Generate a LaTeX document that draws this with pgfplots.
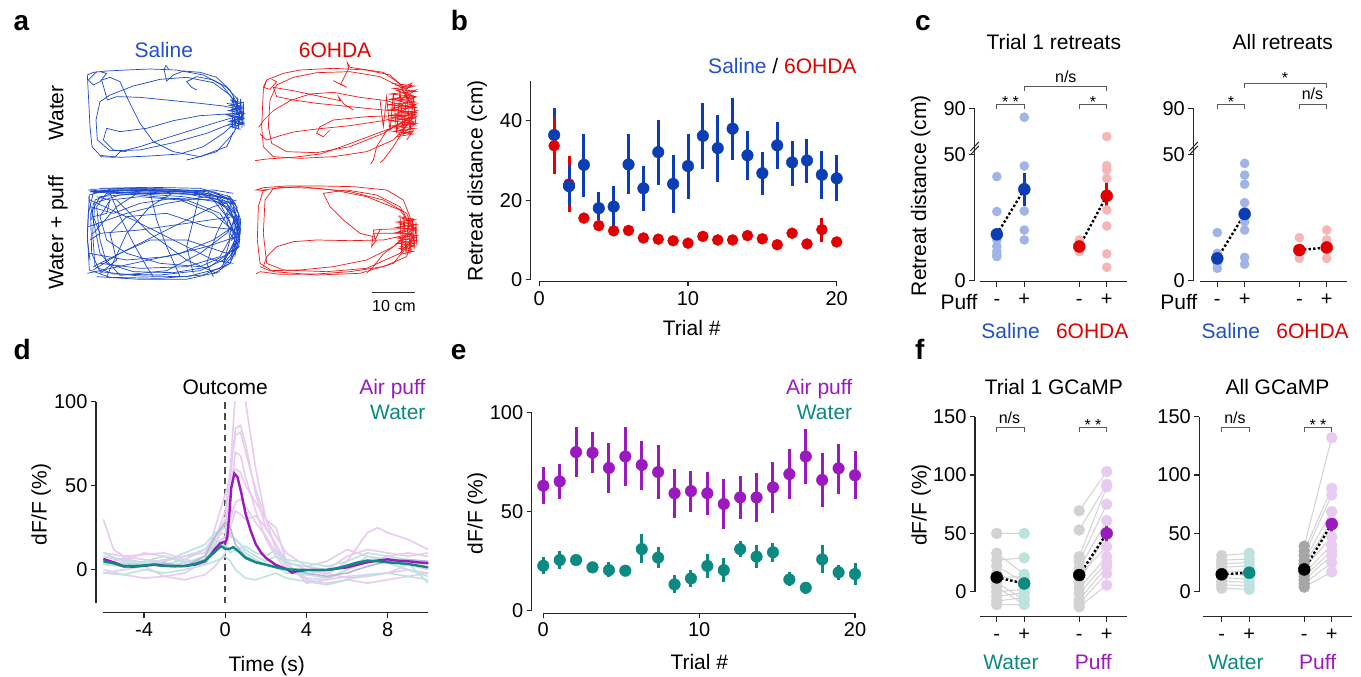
\documentclass[border=0pt]{standalone}
\usepackage{fontspec}
\setmainfont{Liberation Sans}
\usepackage{pgfplots}
\pgfplotsset{compat=1.18}

\definecolor{sal}{HTML}{0B3DB5}
\definecolor{saltxt}{HTML}{2050CC}
\definecolor{sallt}{HTML}{A0B4E6}
\definecolor{ohda}{HTML}{E00000}
\definecolor{ohdalt}{HTML}{F6B6B6}
\definecolor{puf}{HTML}{9A1ABF}
\definecolor{puflt}{HTML}{E9CBF1}
\definecolor{wat}{HTML}{0A8A80}
\definecolor{watlt}{HTML}{BDE2DF}
\definecolor{grbl}{HTML}{B4BCD4}
\definecolor{trb}{HTML}{1C48CC}
\definecolor{trr}{HTML}{F01818}
\definecolor{gry}{HTML}{D2D2D2}
\definecolor{dgry}{HTML}{A6A6A6}

\newcommand{\fsz}[1]{\fontsize{#1}{#1}\selectfont}
\newcommand{\brk}[4]{\draw[br] (#1,{677-#4}) -- (#1,{677-#3}) -- (#2,{677-#3}) -- (#2,{677-#4});}

\tikzset{
  axl/.style={line width=1.1pt, black!85},
  br/.style={line width=0.9pt, black!65},
  lab/.style={font=\fsz{21}, anchor=base},
  sig/.style={font=\fsz{16}, anchor=base},
  pl/.style={font=\bfseries\fsz{28}, anchor=base west},
}

\pgfplotsset{
  panel/.style={scale only axis, clip=false, enlargelimits=false,
    anchor=south west, axis lines=left, axis line style={draw=none,-},
    tick align=outside, major tick length=5pt,
    every tick/.style={black!85, line width=1.1pt},
    tick label style={font=\fsz{20}},
    xticklabel style={text height=15pt, text depth=0pt},
    /pgf/number format/assume math mode=true},
  strip/.style={panel, xtick={0,1,3,4}, xticklabels={-,+,-,+}},
  brkax/.style={y coord trafo/.code={\pgfmathparse{##1>50 ? 50+0.454*(##1-50) : ##1}},
    y coord inv trafo/.code={\pgfmathparse{##1>50 ? 50+(##1-50)/0.454 : ##1}},
    ymin=-0.3, ymax=90, ytick={0,50,90}, yticklabels={0,50,90}},
  ebar/.style={only marks, mark=*, mark size=5.8pt, color=#1,
    error bars/y dir=both, error bars/y explicit, error bars/error mark=none,
    error bars/error bar style={line width=3pt, color=#1}},
  dots/.style={only marks, mark=*, mark size=4.6pt, color=#1},
  mean/.style={only marks, mark=*, mark size=6pt, color=#1,
    error bars/y dir=both, error bars/y explicit, error bars/error mark=none,
    error bars/error bar style={line width=2.6pt, color=#1}},
  dline/.style={black, line width=2.4pt, dash pattern=on 2.4pt off 2.2pt},
  tra/.style={color=#1, line width=0.7pt},
  lt/.style={color=#1, line width=1.6pt},
}

\begin{document}
\begin{tikzpicture}[x=1pt,y=1pt]
\path[use as bounding box] (0,0) rectangle (1361,677);

% ---------------- a: trajectories ----------------
\begin{axis}[scale only axis, anchor=south west, at={(0pt,357pt)},
  width=460pt, height=320pt, xmin=0, xmax=1380, ymin=0, ymax=960,
  y dir=reverse, hide axis, clip=false]
% saline, water
\addplot[tra=trb] coordinates {(728,345)(705,305)(665,255)(610,225)(530,210)(450,207)(380,210)(320,213)(280,217)(262,225)(266,300)(270,380)(276,440)(300,466)(360,472)(450,468)(540,462)(610,440)(670,400)(715,360)(728,345)};
\addplot[tra=trb] coordinates {(722,335)(690,285)(640,248)(560,232)(480,238)(400,258)(330,285)(300,305)(288,360)(292,420)(330,452)(420,450)(520,428)(620,400)(690,372)(722,350)};
\addplot[tra=trb] coordinates {(718,328)(670,318)(600,310)(500,300)(420,292)(350,290)(322,300)(305,240)(330,232)(360,245)(385,300)(420,370)(460,425)(520,455)(600,470)(650,455)(700,400)(725,352)};
\addplot[tra=trb] coordinates {(725,340)(680,342)(600,347)(520,362)(440,385)(360,395)(320,385)(310,420)(340,450)(380,455)};
\addplot[tra=trb] coordinates {(720,347)(650,367)(560,395)(480,420)(420,440)(360,455)(345,472)(300,470)};
\addplot[tra=trb] coordinates {(725,338)(690,270)(650,232)(600,217)(550,213)(520,225)(500,243)(492,208)(498,196)(506,208)};
\addplot[tra=trb] coordinates {(715,300)(680,262)(640,240)(590,230)(560,245)(575,262)(590,270)};
\addplot[tra=trb] coordinates {(700,395)(690,420)(680,440)(600,470)(560,480)};
\addplot[tra=trb] coordinates {(290,215)(265,240)(280,255)(300,245)(320,220)(300,215)};
\addplot[tra=trb] coordinates {(690,300)(728,308)(688,316)(730,324)(686,332)(732,340)(686,348)(730,356)(688,364)(728,372)(692,380)(722,388)};
\addplot[tra=trb] coordinates {(700,290)(705,390)(712,292)(716,388)(722,296)(726,384)(730,305)(732,375)(696,300)(698,385)};
\addplot[tra=trb] coordinates {(680,310)(725,318)(695,328)(728,336)(678,344)(726,352)(694,362)(725,368)(682,376)};
% 6OHDA, water
\addplot[tra=trr] coordinates {(1245,330)(1220,270)(1170,225)(1100,210)(1000,205)(900,210)(850,220)(800,240)(790,270)(785,380)(790,440)(820,470)(900,475)(1000,470)(1100,455)(1180,420)(1235,360)};
\addplot[tra=trr] coordinates {(1240,320)(1200,260)(1140,230)(1050,215)(950,218)(880,232)(830,255)(810,300)(805,380)(815,430)(860,455)(950,458)(1050,440)(1150,400)(1240,345)};
\addplot[tra=trr] coordinates {(1240,335)(1150,330)(1050,320)(950,310)(880,300)(830,290)(820,262)(880,272)(950,287)(1020,302)(1015,290)(1032,312)(1060,330)};
\addplot[tra=trr] coordinates {(1240,340)(1150,362)(1050,377)(950,387)(880,396)(830,410)(800,420)(780,402)};
\addplot[tra=trr] coordinates {(1245,345)(1180,382)(1100,412)(1020,442)(960,462)(880,472)(800,477)(765,482)};
\addplot[tra=trr] coordinates {(1240,352)(1160,392)(1130,440)(1120,480)(1112,492)};
\addplot[tra=trr] coordinates {(1235,325)(1160,302)(1080,292)(1000,277)(930,282)(870,302)(820,332)(790,362)(776,382)};
\addplot[tra=trr] coordinates {(1240,330)(1200,252)(1150,217)(1050,202)(1042,188)(1046,206)(1022,252)(1040,262)(1000,242)};
\addplot[tra=trr] coordinates {(1230,360)(1180,440)(1150,480)(1140,488)};
\addplot[tra=trr] coordinates {(1240,345)(1100,350)(1000,360)(960,380)(950,400)(970,410)(990,390)};
\addplot[tra=trr] coordinates {(800,240)(790,262)(810,268)(830,245)(815,238)};
\addplot[tra=trr] coordinates {(1175,250)(1245,258)(1180,266)(1248,274)(1170,282)(1250,290)(1165,298)(1250,306)(1160,314)(1252,322)(1160,330)(1252,338)(1165,346)(1250,354)(1165,362)(1248,370)(1172,378)(1245,386)(1180,394)(1240,402)(1190,410)};
\addplot[tra=trr] coordinates {(1205,262)(1235,250)(1210,280)(1248,270)(1200,300)(1245,292)(1195,320)(1250,312)(1190,340)(1250,332)(1195,360)(1248,350)(1200,380)(1245,372)(1210,400)(1240,392)(1220,420)};
\addplot[tra=trr] coordinates {(1140,300)(1150,380)(1160,290)(1170,395)(1180,280)(1190,400)(1200,270)(1210,405)(1220,275)(1230,395)(1240,290)(1248,380)};
\addplot[tra=trr] coordinates {(1185,255)(1230,262)(1190,272)(1238,286)(1178,296)(1244,318)(1175,324)(1246,344)(1178,352)(1244,366)(1186,384)(1236,396)(1196,404)};
% saline, water + puff
\addplot[tra=trb] coordinates {(718,700)(700,615)(620,575)(480,566)(330,568)(268,585)(262,700)(268,810)(330,832)(480,835)(610,825)(690,790)(718,720)};
\addplot[tra=trb] coordinates {(712,690)(690,625)(610,585)(470,575)(340,578)(285,600)(278,700)(285,800)(340,822)(480,825)(600,812)(670,780)(705,730)};
\addplot[tra=trb] coordinates {(715,680)(680,610)(600,578)(450,572)(320,580)(290,620)(300,720)(320,790)(400,815)(520,818)(630,800)(700,750)};
\addplot[tra=trb] coordinates {(710,670)(660,600)(560,582)(420,580)(300,590)(272,640)(275,760)(300,815)(420,828)(560,830)(660,805)(712,740)};
\addplot[tra=trb] coordinates {(705,700)(650,590)(520,570)(380,572)(280,578)(265,640)(262,720)(270,780)};
\addplot[tra=trb] coordinates {(720,710)(640,640)(540,600)(420,590)(330,600)(300,650)(320,720)(380,760)(480,790)(600,800)(690,760)};
\addplot[tra=trb] coordinates {(270,600)(400,660)(520,720)(640,780)(700,790)};
\addplot[tra=trb] coordinates {(280,800)(400,740)(520,680)(640,620)(710,600)};
\addplot[tra=trb] coordinates {(300,700)(420,690)(560,670)(700,650)};
\addplot[tra=trb] coordinates {(268,760)(380,780)(500,770)(620,740)(710,710)};
\addplot[tra=trb] coordinates {(330,580)(360,650)(400,730)(440,800)(460,830)};
\addplot[tra=trb] coordinates {(450,575)(470,660)(500,740)(540,830)};
\addplot[tra=trb] coordinates {(600,580)(580,660)(560,740)(580,820)};
\addplot[tra=trb] coordinates {(270,620)(340,640)(420,610)(520,595)(640,600)(705,640)};
\addplot[tra=trb] coordinates {(280,810)(360,760)(450,720)(560,720)(680,760)(715,740)};
\addplot[tra=trb] coordinates {(700,600)(650,700)(620,790)(640,830)};
\addplot[tra=trb] coordinates {(280,700)(350,620)(420,575)};
\addplot[tra=trb] coordinates {(300,820)(350,780)(330,700)(380,650)(500,640)(620,680)(710,690)};
\addplot[tra=trb] coordinates {(300,565)(450,562)(600,565)(690,590)(710,620)(690,600)(600,575)(450,568)(300,572)};
\addplot[tra=trb] coordinates {(265,570)(400,580)(550,590)(680,610)(720,660)(710,700)(720,680)};
\addplot[tra=trb] coordinates {(700,620)(720,700)(690,780)(710,720)(680,640)(715,660)(695,760)(718,740)(690,700)(712,620)};
\addplot[tra=trb] coordinates {(650,590)(700,650)(705,720)(670,790)(690,720)(680,650)(640,600)};
\addplot[tra=trb] coordinates {(290,590)(330,600)(320,640)(280,650)(300,700)(270,720)};
\addplot[tra=trb] coordinates {(270,575)(420,585)(560,600)(660,640)(700,700)(660,770)(560,800)(420,805)(300,790)};
\addplot[tra=trb] coordinates {(262,820)(400,790)(540,760)(640,720)(700,680)};
\addplot[tra=trb] coordinates {(320,830)(380,700)(450,620)(520,578)};
\addplot[tra=trb] coordinates {(700,580)(640,570)(500,575)(360,585)(280,610)(275,660)};
\addplot[tra=trb] coordinates {(290,830)(420,838)(560,838)(660,815)};
\addplot[tra=trb] coordinates {(350,600)(450,700)(560,780)(650,820)};
\addplot[tra=trb] coordinates {(265,680)(380,640)(500,610)(620,590)(700,610)};
\addplot[tra=trb] coordinates {(270,568)(380,565)(500,568)(620,572)(700,600)(620,580)(500,574)(380,570)(270,575)(380,578)(500,580)(620,585)};
\addplot[tra=trb] coordinates {(705,640)(722,690)(700,740)(720,720)(700,660)(716,700)(695,720)(715,650)(705,770)};
\addplot[tra=trb] coordinates {(266,590)(300,760)(360,826)(500,812)(600,760)(680,700)(712,650)(680,595)(560,575)(420,570)(300,575)};
\addplot[tra=trb] coordinates {(640,575)(690,600)(715,640)(720,700)(705,760)(660,810)};
\addplot[tra=trb] coordinates {(680,585)(705,610)(722,660)(718,730)(690,790)(640,822)};
% 6OHDA, water + puff
\addplot[tra=trr] coordinates {(1240,690)(1220,640)(1150,600)(1050,575)(950,565)(850,562)(790,570)(775,620)(772,720)(780,790)(820,815)(950,825)(1080,820)(1180,790)(1230,730)};
\addplot[tra=trr] coordinates {(1235,680)(1200,630)(1100,590)(1000,570)(900,560)(820,565)(795,600)(790,700)(800,790)(850,810)(980,815)(1100,805)(1200,760)(1240,710)};
\addplot[tra=trr] coordinates {(1240,700)(1150,720)(1050,722)(950,720)(880,725)(830,740)(800,770)(790,800)};
\addplot[tra=trr] coordinates {(1238,695)(1180,740)(1100,780)(1000,800)(900,810)(810,812)(780,800)};
\addplot[tra=trr] coordinates {(1235,685)(1150,688)(1120,690)(1125,720)(1140,690)};
\addplot[tra=trr] coordinates {(1240,690)(1200,620)(1130,585)(1040,570)(970,580)(990,620)(1030,660)(1080,700)(1120,710)};
\addplot[tra=trr] coordinates {(1245,690)(1210,600)(1160,570)(1060,560)(960,558)(860,558)(790,563)(768,570)(800,572)};
\addplot[tra=trr] coordinates {(1240,705)(1220,770)(1150,800)(1050,815)(950,822)(840,823)(780,815)(768,822)};
\addplot[tra=trr] coordinates {(1235,690)(1180,740)(1150,762)(1120,800)(1100,820)};
\addplot[tra=trr] coordinates {(1238,700)(1120,700)(1115,740)(1130,720)};
\addplot[tra=trr] coordinates {(1195,650)(1245,658)(1190,666)(1250,674)(1188,682)(1250,690)(1188,698)(1250,706)(1190,714)(1248,722)(1192,730)(1245,738)(1198,746)(1240,754)(1205,762)};
\addplot[tra=trr] coordinates {(1200,645)(1205,760)(1212,648)(1218,765)(1225,650)(1230,760)(1238,655)(1242,750)(1248,665)(1250,735)};
\addplot[tra=trr] coordinates {(1205,655)(1240,662)(1198,672)(1246,684)(1196,694)(1246,712)(1198,722)(1244,730)(1202,740)(1236,748)};
\end{axis}
\node[lab, text=saltxt] at (163.8,{677-57.3}) {Saline};
\node[lab, text=ohda] at (335,{677-57.3}) {6OHDA};
\node[lab, rotate=90] at (63.3,{677-113}) {Water};
\node[lab, rotate=90] at (63.3,{677-233}) {Water + puff};
\draw[line width=1.3pt, black!80] (371.7,{677-292.7}) -- (415,{677-292.7});
\node[font=\fsz{16}, anchor=base] at (394,{677-311.7}) {10 cm};

% ---------------- b ----------------
\begin{axis}[panel, at={(530.7pt,395.5pt)}, width=306pt, height=200.5pt,
  xmin=-0.578, xmax=20, ymin=-0.45, ymax=50, xtick={0,10,20}, ytick={0,20,40}]
\draw[axl] (axis cs:-0.578,0) -- (axis cs:-0.578,50);
\draw[axl] (axis cs:0,-0.45) -- (axis cs:20,-0.45);
\addplot[ebar=sal] coordinates {
 (1,36.4) += (0,6.9) -= (0,7.1)  (2,23.6) += (0,5.1) -= (0,4.9)
 (3,28.9) += (0,7.8) -= (0,8.0)  (4,18.0) += (0,4.0) -= (0,2.9)
 (5,18.4) += (0,5.3) -= (0,5.0)  (6,29.0) += (0,7.6) -= (0,7.4)
 (7,23.0) += (0,5.6) -= (0,5.7)  (8,32.1) += (0,8.2) -= (0,8.3)
 (9,24.1) += (0,7.3) -= (0,7.4)  (10,28.6) += (0,8.0) -= (0,8.3)
 (11,36.2) += (0,8.2) -= (0,8.4) (12,33.1) += (0,8.3) -= (0,8.4)
 (13,38.0) += (0,7.8) -= (0,7.9) (14,31.3) += (0,6.1) -= (0,6.2)
 (15,26.8) += (0,5.4) -= (0,5.6) (16,33.8) += (0,5.9) -= (0,5.9)
 (17,29.5) += (0,5.5) -= (0,5.9) (18,30.0) += (0,5.4) -= (0,5.6)
 (19,26.4) += (0,6.0) -= (0,6.1) (20,25.5) += (0,5.9) -= (0,5.8)};
\addplot[ebar=ohda, mark size=5.5pt] coordinates {
 (1,33.7) +- (0,7.2) (2,24.1) +- (0,7.0) (3,15.5) +- (0,0.8) (4,13.6) +- (0,0.8)
 (5,12.3) +- (0,0.6) (6,12.4) +- (0,0.6) (7,10.5) +- (0,0.6) (8,10.2) +- (0,0.5)
 (9,9.8) +- (0,0.5) (10,9.2) +- (0,0.5) (11,10.9) +- (0,1.2) (12,10.0) +- (0,0.6)
 (13,10.0) +- (0,0.5) (14,11.1) +- (0,0.8) (15,10.3) +- (0,0.6) (16,8.8) +- (0,0.5)
 (17,11.7) +- (0,0.8) (18,9.0) +- (0,0.5) (19,12.6) +- (0,3.0) (20,9.5) +- (0,0.5)};
\addplot[ebar=sal] coordinates {(2,23.6) += (0,5.1) -= (0,4.9)};
\end{axis}
\node[lab, anchor=base east] at (860,{677-73.3}) {\textcolor{saltxt}{Saline} / \textcolor{ohda}{6OHDA}};
\node[lab, rotate=90] at (482.7,{677-180.8}) {Retreat distance (cm)};
\node[lab] at (691.7,{677-336}) {Trial \#};

% ---------------- c ----------------
\begin{axis}[strip, brkax, at={(974.3pt,395.3pt)}, width=152.4pt, height=173.4pt,
  xmin=-0.82, xmax=4.727]
\draw[axl] (axis cs:-0.82,0) -- (axis cs:-0.82,90);
\draw[axl] (axis cs:-0.607,-0.3) -- (axis cs:4.727,-0.3);
\addplot[dots=sallt] coordinates {(0,41.2)(0,27.4)(0,18.8)(0,16.2)(0,13.6)(0,11.6)(0,10.3)(0,9.6)};
\addplot[dots=sallt] coordinates {(1,82.2)(1,45.4)(1,27.6)(1,20.1)(1,16.2)};
\addplot[dots=ohdalt] coordinates {(3,16.2)(3,13.6)(3,11.6)};
\addplot[dots=ohdalt] coordinates {(4,65.4)(4,45.5)(4,43.8)(4,40.5)(4,28.0)(4,21.7)(4,10.7)(4,5.4)};
\addplot[dline] coordinates {(0,18.4)(1,36.2)};
\addplot[dline] coordinates {(3,13.6)(4,33.6)};
\addplot[mean=sal] coordinates {(0,18.4) +- (0,2.5) (1,36.2) +- (0,6.6)};
\addplot[mean=ohda] coordinates {(3,13.6) +- (0,1.2) (4,33.6) +- (0,6.9)};
\end{axis}
\begin{axis}[strip, brkax, at={(1193.3pt,395.3pt)}, width=153.4pt, height=173.4pt,
  xmin=-0.877, xmax=4.731]
\draw[axl] (axis cs:-0.877,0) -- (axis cs:-0.877,90);
\draw[axl] (axis cs:-0.633,-0.3) -- (axis cs:4.731,-0.3);
\addplot[dots=sallt] coordinates {(0,19.1)(0,10.9)(0,8.9)(0,7.0)(0,5.0)};
\addplot[dots=sallt] coordinates {(1,46.4)(1,41.8)(1,38.2)(1,30.9)(1,27.4)(1,23.4)(1,20.1)(1,9.3)(1,6.6)};
\addplot[dots=ohdalt] coordinates {(3,17.1)(3,12.2)(3,8.9)};
\addplot[dots=ohdalt] coordinates {(4,20.1)(4,16.2)(4,12.9)(4,8.9)};
\addplot[dline] coordinates {(0,8.9)(1,26.4)};
\addplot[dline] coordinates {(3,12.2)(4,13.2)};
\addplot[mean=sal] coordinates {(0,8.9) +- (0,2.0) (1,26.4) += (0,4.5) -= (0,3.9)};
\addplot[mean=ohda] coordinates {(3,12.2) +- (0,1.0) (4,13.2) +- (0,1.0)};
\end{axis}
\foreach \xa in {974.3,1193.3}{
  \draw[line width=1pt, black!85] (\xa-4,{677-151}) -- (\xa+4.5,{677-142});
  \draw[line width=1pt, black!85] (\xa-4,{677-155}) -- (\xa+4.5,{677-146});
}
\node[lab] at (1053.8,{677-49.3}) {Trial 1 retreats};
\node[lab] at (1282.8,{677-49.3}) {All retreats};
\node[lab, rotate=90] at (926,{677-195.8}) {Retreat distance (cm)};
\node[lab] at (959,{677-310}) {Puff};
\node[lab] at (1178.8,{677-310}) {Puff};
\node[lab, text=saltxt] at (1010.5,{677-338.3}) {Saline};
\node[lab, text=ohda] at (1092.2,{677-338.3}) {6OHDA};
\node[lab, text=saltxt] at (1230.8,{677-338.3}) {Saline};
\node[lab, text=ohda] at (1312.5,{677-338.3}) {6OHDA};
\brk{996.7}{1024.2}{104.3}{109.3}
\node[sig] at (1010.5,{677-108}) {* *};
\brk{1024.2}{1106.7}{86}{90.7}
\node[sig] at (1065.8,{677-82.7}) {n/s};
\brk{1079.2}{1106.7}{104.3}{109.3}
\node[sig] at (1093,{677-108}) {*};
\brk{1217.3}{1244.7}{104.3}{109.3}
\node[sig] at (1231,{677-108}) {*};
\brk{1299.3}{1326.7}{104.3}{109.3}
\node[sig] at (1312.5,{677-100}) {n/s};
\brk{1244.7}{1326.7}{83.3}{88.3}
\node[sig] at (1285,{677-84}) {*};

% ---------------- d ----------------
\begin{axis}[panel, at={(96pt,64.3pt)}, width=332.3pt, height=211pt,
  xmin=-6.365, xmax=10, ymin=-25.6, ymax=100, xtick={-4,0,4,8}, ytick={0,50,100},
  clip=true, clip mode=individual]
\draw[black!70, line width=1.6pt, dash pattern=on 6.5pt off 4.3pt] (axis cs:0,-20) -- (axis cs:0,100);
\addplot[lt=puflt] coordinates {(-6,30)(-5.5,12)(-5,8)(-4,6)(-3,5)(-2,8)(-1,12)(-0.5,20)(0,22)(0.25,60)(0.5,105)(0.75,110)(1,100)(1.5,60)(2,30)(2.5,12)(3,2)(4,-5)(5,-6)(6,0)(7,5)(8,8)(9,10)(10,8)};
\addplot[lt=puflt] coordinates {(-6,8)(-5,5)(-4,10)(-3,8)(-2,5)(-1,3)(-0.5,15)(0,28)(0.25,55)(0.5,84)(0.75,86)(1,75)(1.5,45)(2,25)(2.5,15)(3,5)(4,0)(5,-3)(6,5)(7,22)(7.5,25)(8,22)(9,18)(10,12)};
\addplot[lt=puflt] coordinates {(-6,5)(-5,4)(-4,3)(-3,2)(-2,4)(-1,6)(-0.5,18)(0,35)(0.25,60)(0.5,80)(0.75,82)(1,70)(1.5,48)(2,30)(2.5,20)(3,10)(4,2)(5,5)(6,12)(7,8)(8,5)(9,3)(10,0)};
\addplot[lt=puflt] coordinates {(-6,0)(-5,-3)(-4,-5)(-3,-4)(-2,-2)(-1,5)(-0.5,25)(0,45)(0.25,55)(0.5,60)(0.75,58)(1,50)(1.5,40)(2,30)(2.5,25)(3,5)(4,-8)(5,-6)(6,-4)(7,-3)(8,-2)(9,0)(10,-2)};
\addplot[lt=puflt] coordinates {(-6,10)(-5,8)(-4,9)(-3,10)(-2,6)(-1,4)(-0.5,10)(0,20)(0.25,30)(0.5,40)(0.75,42)(1,38)(1.5,28)(2,20)(2.5,10)(3,4)(4,2)(5,-2)(6,-5)(7,-4)(8,-2)(9,3)(10,5)};
\addplot[lt=puflt] coordinates {(-6,-2)(-5,0)(-4,2)(-3,-4)(-2,-6)(-1,-3)(-0.5,2)(0,10)(0.25,25)(0.5,35)(0.75,33)(1,30)(1.5,32)(2,25)(2.5,15)(3,3)(4,-6)(5,-8)(6,-6)(7,-8)(8,-6)(9,-4)(10,-6)};
\addplot[lt=puflt] coordinates {(-6,3)(-5,7)(-4,4)(-3,6)(-2,8)(-1,10)(-0.5,18)(0,30)(0.25,45)(0.5,70)(0.75,68)(1,55)(1.5,35)(2,18)(2.5,8)(3,0)(4,-3)(5,0)(6,8)(7,12)(8,10)(9,8)(10,10)};
\addplot[lt=watlt] coordinates {(-6,10)(-5,5)(-4,3)(-3,5)(-2,10)(-1,15)(-0.5,22)(0,25)(0.25,20)(0.5,18)(0.75,15)(1,10)(1.5,6)(2,3)(2.5,2)(3,-2)(4,-3)(5,-5)(6,0)(7,8)(8,6)(9,4)(10,-8)};
\addplot[lt=watlt] coordinates {(-6,3)(-5,2)(-4,5)(-3,8)(-2,4)(-1,8)(-0.5,15)(0,20)(0.25,22)(0.5,18)(1,12)(1.5,8)(2,5)(2.5,8)(3,4)(4,2)(5,0)(6,3)(7,6)(8,4)(9,0)(10,-4)};
\addplot[lt=watlt] coordinates {(-6,-2)(-5,-3)(-4,0)(-3,-2)(-2,0)(-1,3)(-0.5,5)(0,8)(0.25,5)(0.5,0)(1,-5)(1.5,-6)(2,-4)(2.5,-2)(3,-5)(4,-7)(5,-9)(6,-6)(7,-3)(8,-2)(9,-4)(10,-2)};
\addplot[lt=watlt] coordinates {(-6,8)(-5,6)(-4,4)(-3,3)(-2,6)(-1,12)(-0.5,18)(0,14)(0.25,10)(0.5,12)(1,14)(1.5,10)(2,8)(2.5,12)(3,6)(4,4)(5,2)(6,5)(7,10)(8,8)(9,6)(10,4)};
\addplot[lt=grbl] coordinates {(-6,5)(-5,3)(-4,2)(-3,4)(-2,2)(-1,8)(-0.5,20)(0,28)(0.25,25)(0.5,15)(1,8)(1.5,5)(2,3)(3,1)(4,-2)(5,-4)(6,-2)(7,2)(8,5)(9,6)(10,5)};
\addplot[puf, line width=2.4pt] coordinates {(-6,6.4)(-5.5,4.4)(-5,2)(-4.5,1.8)(-4,2.4)(-3.5,3)(-3,2.4)(-2.5,2)(-2,2.2)(-1.5,3)(-1,5)(-0.75,8.4)(-0.5,12.4)(-0.25,15.7)(-0.05,16.5)(0,16)(0.1,19.3)(0.2,33)(0.3,49)(0.45,57.2)(0.6,55.2)(0.8,45.2)(1,33.3)(1.25,23.3)(1.5,15.3)(1.75,10.4)(2,7)(2.5,2.8)(3,0.4)(3.3,-1.8)(3.5,-1)(4,-0.2)(5,-0.2)(6,1.4)(7,4.4)(7.5,5.4)(8,6.2)(8.5,5.4)(9,5)(9.5,4.4)(10,3.8)};
\addplot[wat, line width=2.4pt] coordinates {(-6,5)(-5.5,3.8)(-5,2)(-4,2.4)(-3.5,3)(-3,2.2)(-2,2.2)(-1.5,3.4)(-1,5.4)(-0.5,10.8)(-0.2,14)(0,12.4)(0.2,12.4)(0.4,13.4)(0.7,10.4)(1,7)(1.5,4.4)(2,3)(2.5,1.4)(3,0.2)(4,-0.2)(5,-0.2)(5.5,0.8)(6,2.4)(6.5,4.2)(7,5.4)(7.5,5)(8,4.4)(9,3.4)(9.5,2.4)(10,1.4)};
\end{axis}
\draw[axl] (96,{677-602.6}) -- (96,{677-401.7});
\draw[axl] (103.4,{677-612.7}) -- (428.3,{677-612.7});
\node[lab] at (225.2,{677-394.3}) {Outcome};
\node[lab, anchor=base east, text=puf] at (429,{677-394.3}) {Air puff};
\node[lab, anchor=base east, text=wat] at (429,{677-420}) {Water};
\node[lab, rotate=90] at (46.7,{677-504.2}) {dF/F (\%)};
\node[lab] at (266.7,{677-671.7}) {Time (s)};

% ---------------- e ----------------
\begin{axis}[panel, at={(531.7pt,63.7pt)}, width=323.3pt, height=200.6pt,
  xmin=-0.744, xmax=20, ymin=-1.3, ymax=100, xtick={0,10,20}, ytick={0,50,100}]
\draw[axl] (axis cs:-0.744,0) -- (axis cs:-0.744,100);
\draw[axl] (axis cs:0,-1.3) -- (axis cs:20,-1.3);
\addplot[ebar=wat] coordinates {
 (0,22.7) += (0,4.2) -= (0,4.2)      (1.053,25.6) += (0,4.5) -= (0,4.7)
 (2.105,25.6) += (0,2.5) -= (0,2.5)  (3.158,21.9) += (0,2.8) -= (0,3.0)
 (4.211,20.5) += (0,3.9) -= (0,3.7)  (5.263,20.2) += (0,2.0) -= (0,2.2)
 (6.316,31.1) += (0,7.5) -= (0,7.2)  (7.368,26.8) += (0,5.5) -= (0,5.4)
 (8.421,13.3) += (0,4.7) -= (0,4.5)  (9.474,16.3) += (0,4.2) -= (0,4.2)
 (10.526,22.6) += (0,5.9) -= (0,6.3) (11.579,20.5) += (0,5.9) -= (0,5.9)
 (12.632,31.1) += (0,4.1) -= (0,4.2) (13.684,27.3) += (0,5.9) -= (0,5.9)
 (14.737,29.5) += (0,4.8) -= (0,4.8) (15.789,15.8) += (0,3.9) -= (0,3.3)
 (16.842,11.6) += (0,2.5) -= (0,3.4) (17.895,25.9) += (0,7.3) -= (0,7.0)
 (18.947,19.4) += (0,3.7) -= (0,3.9) (20,18.5) += (0,5.4) -= (0,5.5)};
\addplot[ebar=puf] coordinates {
 (0,63.1) += (0,9.6) -= (0,9.2)       (1.053,65.3) += (0,8.8) -= (0,9.1)
 (2.105,80.1) += (0,12.8) -= (0,12.4) (3.158,79.8) += (0,10.3) -= (0,10.1)
 (4.211,72.1) += (0,12.4) -= (0,12.8) (5.263,77.9) += (0,15.0) -= (0,14.8)
 (6.316,73.6) += (0,12.3) -= (0,12.7) (7.368,70.0) += (0,13.7) -= (0,13.8)
 (8.421,59.3) += (0,12.2) -= (0,12.7) (9.474,60.4) += (0,10.3) -= (0,10.7)
 (10.526,59.3) += (0,10.9) -= (0,11.0) (11.579,53.9) += (0,12.4) -= (0,12.8)
 (12.632,57.2) += (0,11.0) -= (0,10.9) (13.684,57.2) += (0,12.2) -= (0,12.3)
 (14.737,62.3) += (0,13.0) -= (0,13.1) (15.789,69.0) += (0,12.6) -= (0,12.8)
 (16.842,77.9) += (0,13.9) -= (0,13.9) (17.895,66.0) += (0,13.5) -= (0,13.5)
 (18.947,71.9) += (0,12.4) -= (0,13.0) (20,68.4) += (0,12.2) -= (0,12.2)};
\end{axis}
\node[lab, anchor=base east, text=puf] at (855.7,{677-394.3}) {Air puff};
\node[lab, anchor=base east, text=wat] at (855.7,{677-420}) {Water};
\node[lab, rotate=90] at (482.7,{677-513.3}) {dF/F (\%)};
\node[lab] at (699.3,{677-670}) {Trial \#};

% ---------------- f ----------------
\begin{axis}[strip, at={(975pt,60.3pt)}, width=151.7pt, height=200pt,
  xmin=-0.789, xmax=4.727, ymin=-21.4, ymax=150, ytick={0,50,100,150}, unbounded coords=jump]
\draw[axl] (axis cs:-0.789,0) -- (axis cs:-0.789,150);
\draw[axl] (axis cs:-0.607,-21.4) -- (axis cs:4.727,-21.4);
\addplot[gry, line width=1pt] coordinates {(0,50)(1,50) (0.5,nan) (0,33)(1,15) (0.5,nan) (0,27)(1,29) (0.5,nan) (0,22)(1,8) (0.5,nan) (0,16)(1,5) (0.5,nan) (0,12)(1,13) (0.5,nan) (0,8)(1,-7) (0.5,nan) (0,4)(1,-11) (0.5,nan) (0,0)(1,2) (0.5,nan) (0,-4)(1,-1) (0.5,nan) (0,-8)(1,-5) (0.5,nan) (0,-11)(1,-11)};
\addplot[gry, line width=1pt] coordinates {(3,69.4)(4,103) (3.5,nan) (3,52.9)(4,92) (3.5,nan) (3,30)(4,90) (3.5,nan) (3,25.7)(4,75) (3.5,nan) (3,20)(4,61) (3.5,nan) (3,14)(4,38.6) (3.5,nan) (3,8)(4,50) (3.5,nan) (3,3)(4,30) (3.5,nan) (3,-1.4)(4,25) (3.5,nan) (3,-7.1)(4,21.4) (3.5,nan) (3,-10)(4,15.7) (3.5,nan) (3,-12.9)(4,5.7)};
\addplot[dots=gry, mark size=5.5pt] coordinates {(0,50)(0,33)(0,27)(0,22)(0,16)(0,12)(0,8)(0,4)(0,0)(0,-4)(0,-8)(0,-11)};
\addplot[dots=watlt, mark size=5.5pt] coordinates {(1,50)(1,29)(1,15)(1,13)(1,8)(1,5)(1,2)(1,-1)(1,-5)(1,-7)(1,-11)};
\addplot[dots=gry, mark size=5.5pt] coordinates {(3,69.4)(3,52.9)(3,30)(3,25.7)(3,20)(3,14)(3,8)(3,3)(3,-1.4)(3,-7.1)(3,-10)(3,-12.9)};
\addplot[dots=puflt, mark size=5.5pt] coordinates {(4,103)(4,92)(4,90)(4,75)(4,61)(4,50)(4,38.6)(4,30)(4,25)(4,21.4)(4,15.7)(4,5.7)};
\addplot[dline] coordinates {(0,12.3)(1,7.1)};
\addplot[dline] coordinates {(3,14.3)(4,50)};
\addplot[mean=black] coordinates {(0,12.3) +- (0,5) (3,14.3) +- (0,5)};
\addplot[mean=wat] coordinates {(1,7.1) +- (0,5)};
\addplot[mean=puf] coordinates {(4,50) += (0,8.6) -= (0,9.1)};
\end{axis}
\begin{axis}[strip, at={(1199.3pt,60.3pt)}, width=152.4pt, height=200pt,
  xmin=-0.815, xmax=4.727, ymin=-21.4, ymax=150, ytick={0,50,100,150}, unbounded coords=jump]
\draw[axl] (axis cs:-0.815,0) -- (axis cs:-0.815,150);
\draw[axl] (axis cs:-0.68,-21.4) -- (axis cs:4.727,-21.4);
\addplot[gry, line width=1pt] coordinates {(0,31)(1,33) (0.5,nan) (0,27)(1,28) (0.5,nan) (0,24)(1,25) (0.5,nan) (0,21)(1,22) (0.5,nan) (0,18)(1,17) (0.5,nan) (0,15)(1,14) (0.5,nan) (0,12)(1,11) (0.5,nan) (0,9)(1,8) (0.5,nan) (0,6)(1,5) (0.5,nan) (0,3)(1,2)};
\addplot[gry, line width=1pt] coordinates {(3,39)(4,132) (3.5,nan) (3,35)(4,88.6) (3.5,nan) (3,31)(4,83) (3.5,nan) (3,27)(4,68.6) (3.5,nan) (3,24)(4,60) (3.5,nan) (3,20)(4,47) (3.5,nan) (3,16)(4,40) (3.5,nan) (3,13)(4,35) (3.5,nan) (3,10)(4,31) (3.5,nan) (3,7)(4,25) (3.5,nan) (3,4)(4,17)};
\addplot[dots=gry, mark size=5.5pt] coordinates {(0,31)(0,27)(0,24)(0,21)(0,18)(0,15)(0,12)(0,9)(0,6)(0,3)};
\addplot[dots=watlt, mark size=5.5pt] coordinates {(1,33)(1,28)(1,25)(1,22)(1,17)(1,14)(1,11)(1,8)(1,5)(1,2)};
\addplot[dots=dgry, mark size=5.5pt] coordinates {(3,39)(3,35)(3,31)(3,27)(3,24)(3,20)(3,16)(3,13)(3,10)(3,7)(3,4)};
\addplot[dots=puflt, mark size=5.5pt] coordinates {(4,132)(4,88.6)(4,83)(4,68.6)(4,60)(4,47)(4,40)(4,35)(4,31)(4,25)(4,17)};
\addplot[dline] coordinates {(0,14.9)(1,16.3)};
\addplot[dline] coordinates {(3,19.1)(4,58)};
\addplot[mean=black] coordinates {(0,14.9) +- (0,2.5) (3,19.1) +- (0,3)};
\addplot[mean=wat] coordinates {(1,16.3) +- (0,2.5)};
\addplot[mean=puf] coordinates {(4,58) += (0,8.6) -= (0,8)};
\end{axis}
\node[lab] at (1053.8,{677-395}) {Trial 1 GCaMP};
\node[lab] at (1277.5,{677-395}) {All GCaMP};
\node[lab, rotate=90] at (926.7,{677-505}) {dF/F (\%)};
\node[lab, text=wat] at (1011,{677-670}) {Water};
\node[lab, text=puf] at (1093.3,{677-670}) {Puff};
\node[lab, text=wat] at (1236,{677-670}) {Water};
\node[lab, text=puf] at (1317.7,{677-670}) {Puff};
\brk{996.7}{1024.2}{427.3}{431.7}
\node[sig] at (1009.5,{677-423.3}) {n/s};
\brk{1079.2}{1106.7}{427.3}{431.7}
\node[sig] at (1093,{677-430.2}) {* *};
\brk{1221.7}{1249.2}{427.3}{431.7}
\node[sig] at (1235,{677-423.3}) {n/s};
\brk{1304.2}{1331.7}{427.3}{431.7}
\node[sig] at (1318,{677-430.2}) {* *};

% panel letters
\node[pl] at (10,{677-30.7}) {a};
\node[pl] at (447.3,{677-30.7}) {b};
\node[pl] at (911.7,{677-30.7}) {c};
\node[pl] at (10,{677-360}) {d};
\node[pl] at (447.3,{677-360}) {e};
\node[pl] at (911.7,{677-359.3}) {f};
\end{tikzpicture}
\end{document}
